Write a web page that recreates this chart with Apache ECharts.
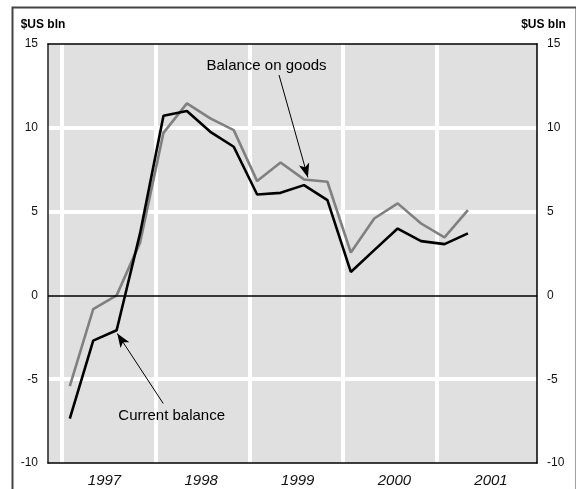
<!DOCTYPE html>
<html><head><meta charset="utf-8">
<script src="https://cdn.jsdelivr.net/npm/echarts@6/dist/echarts.min.js"></script>
<style>html,body{margin:0;padding:0;background:#fff}#c{width:576px;height:489px}</style>
</head><body><div id="c"></div>
<script>
// Quarterly data, 1997 Q1 – 2001 Q2 ($US bln)
const quarters = ['1997Q1','1997Q2','1997Q3','1997Q4','1998Q1','1998Q2','1998Q3','1998Q4',
                  '1999Q1','1999Q2','1999Q3','1999Q4','2000Q1','2000Q2','2000Q3','2000Q4',
                  '2001Q1','2001Q2'];
const currentBalance = [-7.35, -2.7, -2.08, 3.7, 10.72, 11.0, 9.76, 8.87,
                        6.02, 6.12, 6.58, 5.68, 1.40, 2.7, 3.99, 3.24, 3.06, 3.70];
const balanceOnGoods = [-5.42, -0.82, 0.0, 3.15, 9.7, 11.46, 10.56, 9.86,
                        6.82, 7.93, 6.92, 6.78, 2.56, 4.59, 5.49, 4.29, 3.46, 5.09];
const yearLabels = ['1997','1998','1999','2000','2001'];
const yTickLabels = [-10, -5, 0, 5, 10, 15];

// x in months since Jan 1997; each quarter plotted at its middle month
const xOf = i => 3 * i + 1;
const toPairs = arr => arr.map((v, i) => [xOf(i), v]);
const yearStarts = yearLabels.map((y, i) => 12 * i);
const yearValues = yearLabels.map(Number);

const FONT = 'Liberation Sans, Arial, Helvetica, sans-serif';
const chart = echarts.init(document.getElementById('c'), null, {renderer: 'canvas'});

chart.setOption({
  animation: false,
  backgroundColor: '#ffffff',
  graphic: [{
    type: 'rect', left: 10, top: 5, silent: true, z: 100,
    shape: {width: 564, height: 500},
    style: {fill: 'none', stroke: '#444', lineWidth: 2}
  }],
  grid: {left: 48, right: 39, top: 44, bottom: 26, show: true,
         backgroundColor: '#e0e0e0', borderWidth: 0},
  xAxis: [{
    type: 'value', min: -1.793, max: 60.85, position: 'bottom',
    axisLine: {show: true, onZero: false, lineStyle: {color: '#000', width: 1.5}},
    axisTick: {show: false, customValues: yearStarts},
    axisLabel: {show: false},
    splitLine: {show: true, lineStyle: {color: '#ffffff', width: 4}}
  }, {
    type: 'value', min: 1996.415, max: 2001.476, position: 'bottom',
    axisLine: {show: false}, axisTick: {show: false}, splitLine: {show: false},
    axisLabel: {show: true, customValues: yearValues, margin: 10,
      formatter: v => yearLabels[yearValues.indexOf(Math.round(v))],
      fontFamily: FONT, fontSize: 15, fontStyle: 'italic', color: '#111'}
  }, {
    type: 'value', min: 0, max: 1, position: 'top',
    axisLine: {show: true, onZero: false, lineStyle: {color: '#000', width: 1.5}},
    axisTick: {show: false}, axisLabel: {show: false}, splitLine: {show: false}
  }],
  yAxis: [{
    type: 'value', min: -10, max: 15, interval: 5, position: 'left',
    name: '$US bln', nameLocation: 'end', nameGap: 13,
    nameTextStyle: {fontFamily: FONT, fontSize: 12, fontWeight: 'bold', color: '#000',
                    align: 'center', padding: [0, 10, 0, 0]},
    axisLine: {show: true, onZero: false, lineStyle: {color: '#222', width: 1.5}},
    axisTick: {show: false, customValues: [-5, 5, 10]},
    axisLabel: {customValues: yTickLabels, margin: 10, fontFamily: FONT, fontSize: 12, color: '#111'},
    splitLine: {show: true, lineStyle: {color: '#ffffff', width: 4}}
  }, {
    type: 'value', min: -10, max: 15, interval: 5, position: 'right',
    name: '$US bln', nameLocation: 'end', nameGap: 13,
    nameTextStyle: {fontFamily: FONT, fontSize: 12, fontWeight: 'bold', color: '#000',
                    align: 'center', padding: [0, 0, 0, 13]},
    axisLine: {show: true, onZero: false, lineStyle: {color: '#000', width: 1.5}},
    axisTick: {show: false},
    axisLabel: {customValues: yTickLabels, margin: 10, fontFamily: FONT, fontSize: 12, color: '#111'},
    splitLine: {show: false}
  }],
  series: [{
    name: 'Balance on goods', type: 'line', xAxisIndex: 0, yAxisIndex: 0,
    data: toPairs(balanceOnGoods), symbol: 'none', z: 3,
    lineStyle: {color: '#808080', width: 2.6},
    markLine: {
      silent: true, symbol: 'none', animation: false,
      lineStyle: {color: '#000', width: 1.5, type: 'solid'},
      label: {show: false},
      data: [{yAxis: 0}]
    }
  }, {
    name: 'Current balance', type: 'line', xAxisIndex: 0, yAxisIndex: 0,
    data: toPairs(currentBalance), symbol: 'none', z: 4,
    lineStyle: {color: '#000000', width: 2.6},
    markLine: {
      silent: true, animation: false, symbol: ['none', 'arrow'], symbolSize: [8, 14],
      lineStyle: {color: '#000', width: 1, type: 'solid'},
      label: {show: false},
      data: [
        [{coord: [27.8, 13.15]}, {coord: [31.5, 7.04]}],
        [{coord: [12.97, -6.45]}, {coord: [7.08, -2.27]}]
      ]
    },
    markPoint: {
      silent: true, animation: false, symbol: 'rect', symbolSize: 1,
      itemStyle: {color: 'rgba(0,0,0,0)'},
      label: {show: true, position: 'inside', formatter: '{b}',
              fontFamily: FONT, fontSize: 15, color: '#000'},
      data: [
        {name: 'Balance on goods', coord: [26.2, 13.7]},
        {name: 'Current balance', coord: [14.05, -7.21]}
      ]
    }
  }]
});
</script></body></html>
